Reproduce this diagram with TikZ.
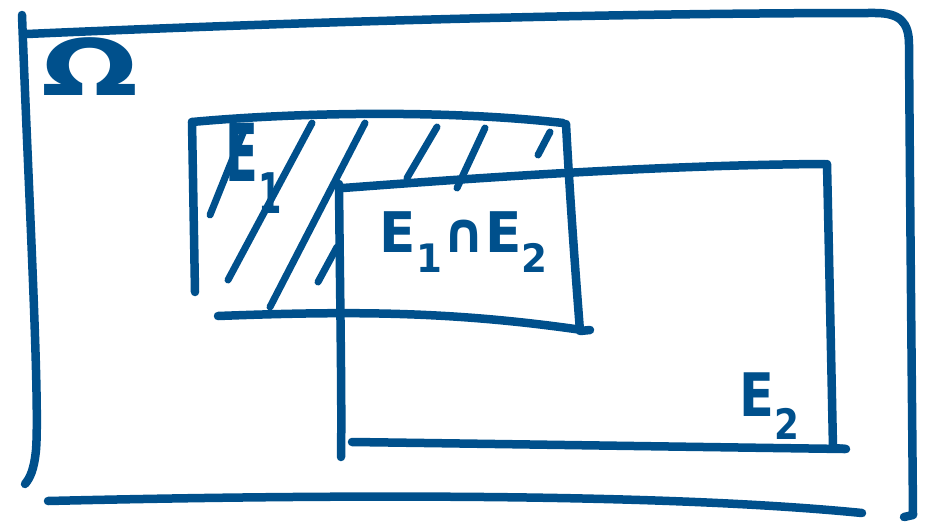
\documentclass[tikz,border=0pt]{standalone}
\usepackage{fontspec}
\newfontfamily\hand{DejaVu Sans}
\definecolor{ink}{HTML}{00508C}
\begin{document}
\begin{tikzpicture}[x=1pt,y=-1pt,
  pen/.style={draw=ink,line width=8.5pt,line cap=round,line join=round},
  hatch/.style={draw=ink,line width=7pt,line cap=round},
  lbl/.style={text=ink,font=\hand\bfseries,inner sep=0pt}]
\useasboundingbox (0,0) rectangle (925,524);
% Omega frame
\draw[pen] (22,15) .. controls (28,180) and (40,400) .. (36,450) .. controls (34,470) and (30,478) .. (25,484);
\draw[pen] (27,34) .. controls (300,22) and (600,13) .. (875,13) .. controls (900,13) and (909,22) .. (909,45) .. controls (910,200) and (912,400) .. (913,515) -- (904,517);
\draw[pen] (48,501) .. controls (300,495) and (650,492) .. (862,513);
% E1
\draw[pen] (192,122) .. controls (300,112) and (450,110) .. (563,123);
\draw[pen] (192,122) -- (195,292);
\draw[pen] (566,124) .. controls (570,200) and (576,280) .. (580,331) -- (590,330);
\draw[pen] (218,316) .. controls (350,311) and (450,311) .. (582,330);
% E2
\draw[pen] (343,188) .. controls (450,180) and (650,165) .. (825,164);
\draw[pen] (339,184) .. controls (340,300) and (342,400) .. (341,457);
\draw[pen] (827,164) .. controls (830,300) and (832,400) .. (833,448) -- (846,449);
\draw[pen] (352,442) .. controls (500,444) and (700,447) .. (845,449);
% hatching
\draw[hatch] (210,215) -- (245,128);
\draw[hatch] (228,280) -- (312,123);
\draw[hatch] (270,307) -- (365,123);
\draw[hatch] (318,282) -- (337,247);
\draw[hatch] (407,178) -- (437,127);
\draw[hatch] (457,188) -- (485,128);
\draw[hatch] (538,155) -- (550,132);
% labels
\node[lbl,font=\hand\bfseries\fontsize{60}{60}\selectfont,xscale=1.9,yscale=1.3] (omega) at (90,67) {Ω};
\node[lbl,font=\hand\bfseries\fontsize{80}{80}\selectfont,xscale=0.6] (e1) at (254,168) {E\textsubscript{1}};
\node[lbl,font=\hand\bfseries\fontsize{56}{56}\selectfont,xscale=0.95] (e12) at (464,242) {E\textsubscript{1}∩E\textsubscript{2}};
\node[lbl,font=\hand\bfseries\fontsize{60}{60}\selectfont,xscale=0.85] (e2) at (770,406) {E\textsubscript{2}};
\end{tikzpicture}
\end{document}
